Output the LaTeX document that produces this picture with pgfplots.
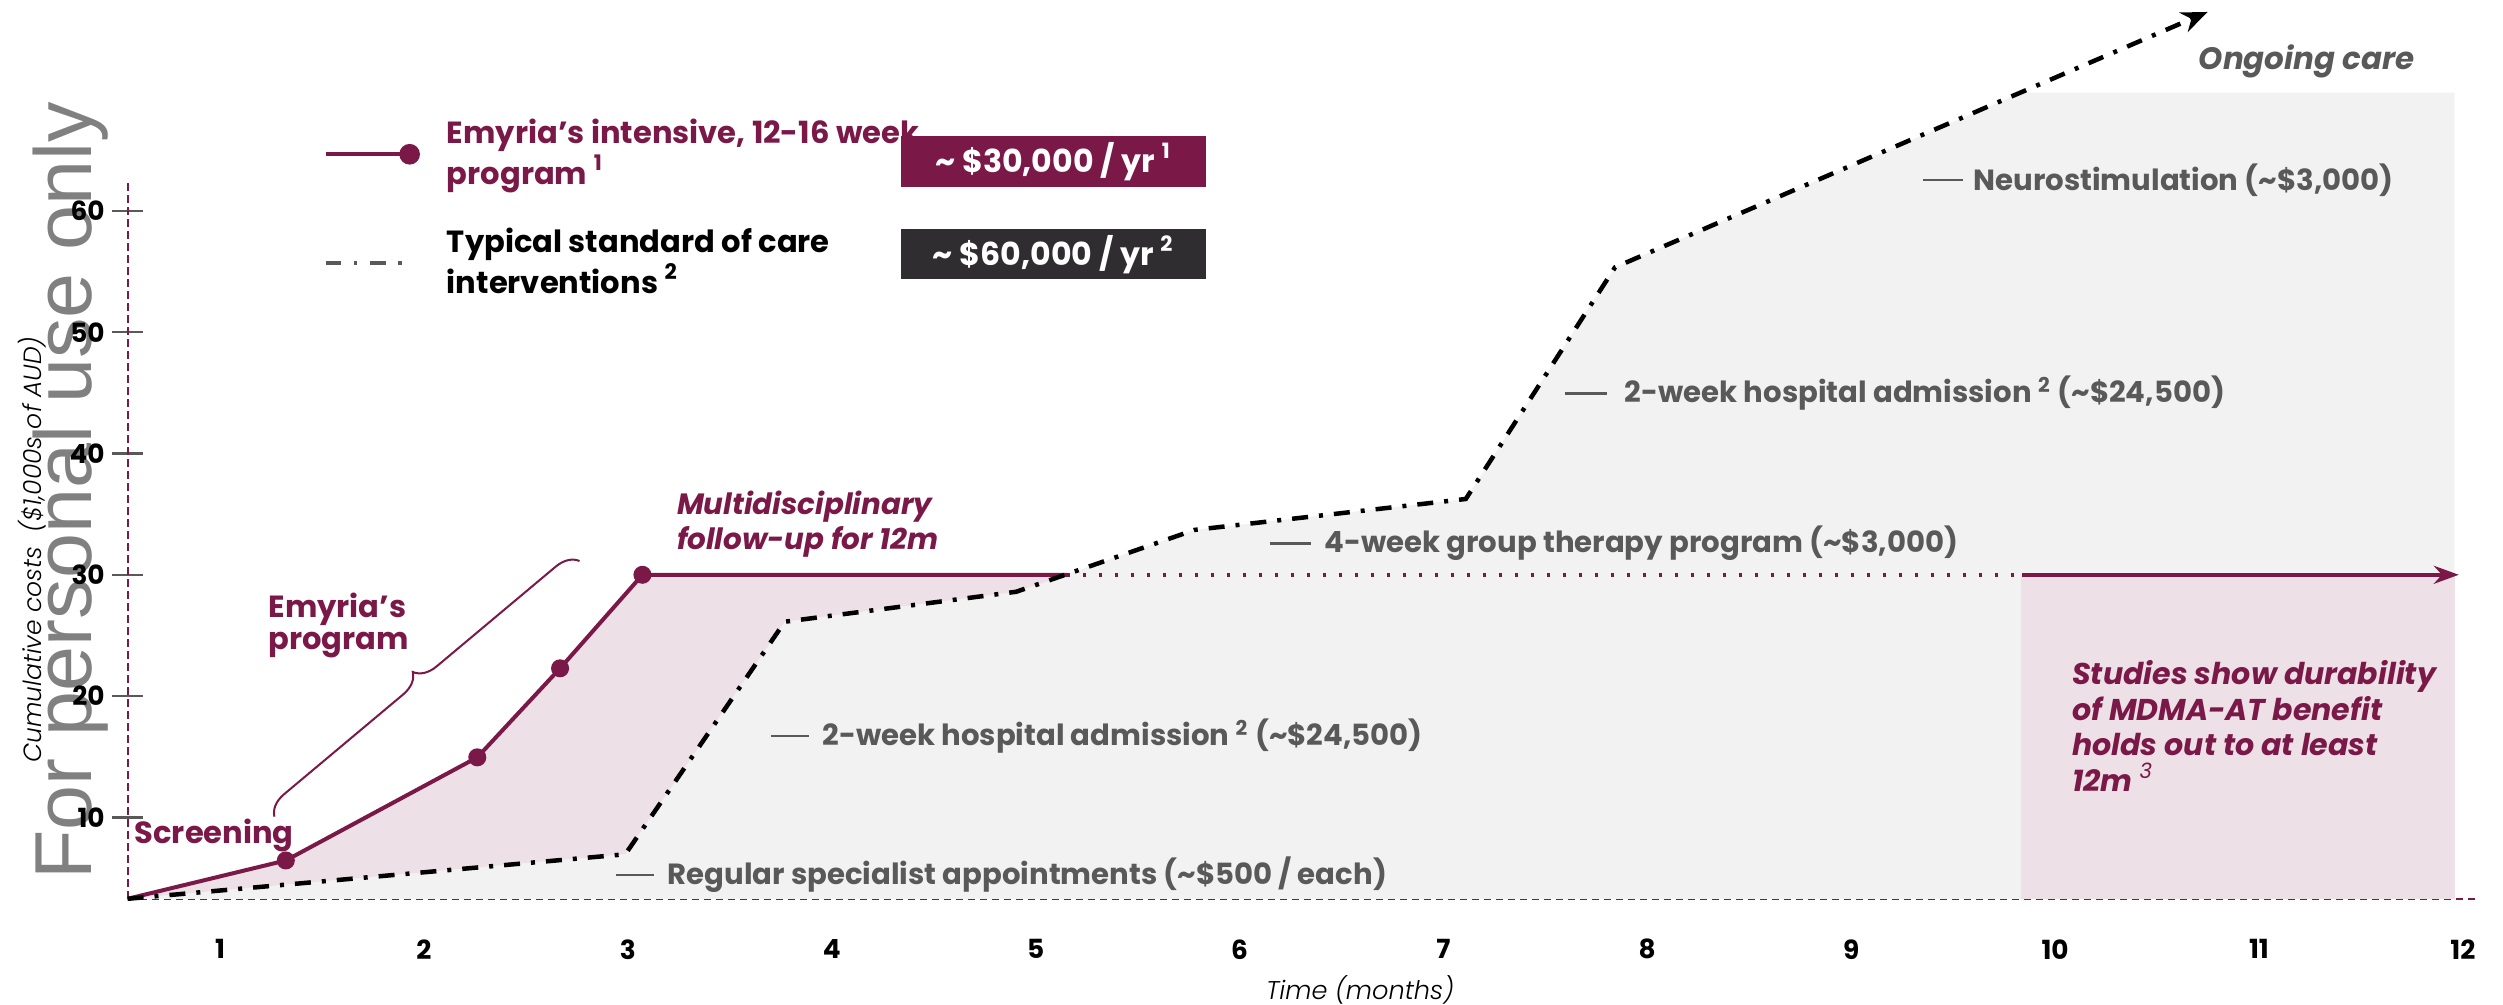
\documentclass[border=0pt]{standalone}
\usepackage{pgfplots}
\pgfplotsset{compat=1.18}
\usepackage{fontspec}
\setmainfont{Poppins}
\newfontfamily\wmfont{Liberation Sans}
\newfontfamily\poplight{Poppins Light}[ItalicFont={Poppins Light Italic}]
\usetikzlibrary{decorations.pathreplacing,arrows.meta}
\definecolor{emy}{HTML}{7A1848}
\definecolor{greytxt}{HTML}{595959}
\definecolor{bgrey}{HTML}{F2F2F2}
\definecolor{bpink}{HTML}{EDE0E6}
\definecolor{darkbox}{HTML}{2F2D30}
\begin{document}
\begin{tikzpicture}
\path[use as bounding box] (0,0) rectangle (25.03cm,10.05cm);
% watermark
\node[rotate=90, anchor=base, inner sep=0pt, text=gray, font=\wmfont\fontsize{23}{23}\selectfont] at (0.917cm,5.14cm) {For personal use only};
\begin{axis}[
  at={(1.276cm,1.062cm)}, anchor=south west,
  scale only axis, width=23.485cm, height=7.158cm,
  xmin=0.547, xmax=12.065, ymin=3.29, ymax=62.3,
  clip=false,
  axis x line*=bottom, axis y line*=left,
  axis line style={emy, line width=0.2mm, dash pattern=on 0.75mm off 0.45mm},
  xtick={1,...,12}, ytick={10,20,...,60},
  x tick style={draw=none},
  y tick style={draw=greytxt, line width=0.25mm},
  major tick length=3.1mm, tick align=center,
  /pgf/number format/assume math mode=true,
  ticklabel style={font=\bfseries\fontsize{7.5}{8}\selectfont, text=black},
  xticklabel style={anchor=center, yshift=-3.5mm},
  yticklabel style={anchor=east, xshift=0.5mm},
  xlabel={Time (months)},
  ylabel={Cumulative costs\ \ (\$1,000s of AUD)},
  xlabel style={at={(axis description cs:0.5248,0)}, anchor=center, yshift=-9.12mm, font=\poplight\itshape\fontsize{7.3}{8}\selectfont},
  ylabel style={at={(axis description cs:-0.0405,0.4878)}, anchor=center, rotate=0, font=\poplight\itshape\fontsize{7.1}{8}\selectfont},
  legend style={at={(axis cs:1.505,60.18)}, anchor=west, draw=none, fill=none, inner sep=0pt,
    row sep=2.4mm, font=\bfseries\fontsize{8.7}{9.5}\selectfont, cells={anchor=west, align=left},
    /tikz/every odd column/.append style={column sep=2mm}},
  legend cell align=left,
]
% grey area under standard of care
\addplot[fill=bgrey, draw=none, forget plot] coordinates {
  (0.547,3.29) (2.988,6.96) (3.770,26.13) (4.905,28.6) (5.78,33.7) (7.11,36.25)
  (7.842,55.35) (9.835,69.75) (11.96,69.75) (11.96,3.29)} -- cycle;
% pink area between the two curves
\addplot[fill=bpink, draw=none, forget plot] coordinates {
  (0.547,3.29) (1.323,6.45) (2.262,14.95) (2.668,22.29) (3.072,30) (5.153,30)
  (4.905,28.6) (3.770,26.13) (2.988,6.96)} -- cycle;
% pink durability box
\addplot[fill=bpink, draw=none, forget plot] coordinates {
  (9.835,3.29) (11.96,3.29) (11.96,30) (9.835,30)} -- cycle;
% Emyria line
\addplot[emy, line width=0.4mm,
  legend image code/.code={\draw[-, solid, emy, line width=0.4mm] (0mm,0mm) -- (8.4mm,0mm); \fill[emy] (8.4mm,0mm) circle (0.83mm);}]
  coordinates {(0.547,3.29) (1.323,6.45) (2.262,14.95) (2.668,22.29) (3.072,30) (5.153,30)};
\addlegendentry[text=emy]{Emyria's intensive, 12-16 week\\program \textsuperscript{1}}
% standard of care
\addplot[black, line width=0.45mm, dash pattern=on 1.6mm off 1.1mm on 0.4mm off 1.1mm,
  -{Stealth[length=2.6mm, width=2.1mm]},
  legend image code/.code={\draw[-, black!65, line width=0.33mm, dash pattern=on 1.57mm off 1.27mm on 0.33mm off 1.27mm] (0mm,0mm) -- (7.8mm,0mm);}]
  coordinates {(0.547,3.29) (2.988,6.96) (3.770,26.13) (4.905,28.6) (5.78,33.7) (7.11,36.25) (7.842,55.35) (10.748,76.4)};
\addlegendentry[text=black]{Typical standard of care\\interventions \textsuperscript{2}}
% follow-up dotted and arrow
\addplot[emy, line width=0.35mm, dash pattern=on 0.35mm off 1.25mm, forget plot]
  coordinates {(5.153,30) (9.84,30)};
\addplot[emy, line width=0.35mm, -{Stealth[length=2.5mm, width=1.8mm]}, forget plot]
  coordinates {(9.84,30) (11.98,30)};
\addplot[only marks, mark=*, mark size=0.83mm, color=emy, forget plot]
  coordinates {(1.323,6.45) (2.262,14.95) (2.668,22.29) (3.072,30)};
% annotation lines and labels
\draw[greytxt, line width=0.25mm] (axis cs:2.942,5.25) -- (axis cs:3.128,5.25);
\node[anchor=west, inner sep=0pt, text=greytxt, font=\bfseries\fontsize{8.3}{9.5}\selectfont] at (axis cs:3.192,5.25) {Regular specialist appointments (\textasciitilde\$500 / each)};
\draw[greytxt, line width=0.25mm] (axis cs:3.702,16.71) -- (axis cs:3.889,16.71);
\node[anchor=west, inner sep=0pt, text=greytxt, font=\bfseries\fontsize{8.3}{9.5}\selectfont] at (axis cs:3.952,16.71) {2-week hospital admission \textsuperscript{2} (\textasciitilde\$24,500)};
\draw[greytxt, line width=0.25mm] (axis cs:6.151,32.6) -- (axis cs:6.351,32.6);
\node[anchor=west, inner sep=0pt, text=greytxt, font=\bfseries\fontsize{8.3}{9.5}\selectfont] at (axis cs:6.414,32.6) {4-week group therapy program (\textasciitilde\$3,000)};
\draw[greytxt, line width=0.25mm] (axis cs:7.596,44.96) -- (axis cs:7.802,44.96);
\node[anchor=west, inner sep=0pt, text=greytxt, font=\bfseries\fontsize{8.3}{9.5}\selectfont] at (axis cs:7.887,44.96) {2-week hospital admission \textsuperscript{2} (\textasciitilde\$24,500)};
\draw[greytxt, line width=0.25mm] (axis cs:9.352,62.55) -- (axis cs:9.548,62.55);
\node[anchor=west, inner sep=0pt, text=greytxt, font=\bfseries\fontsize{8.3}{9.5}\selectfont] at (axis cs:9.597,62.55) {Neurostimulation (\textasciitilde\$3,000)};
\node[anchor=east, inner sep=0pt, text=greytxt, font=\bfseries\itshape\fontsize{8.8}{9.5}\selectfont] at (axis cs:11.767,72.3) {Ongoing care};
% purple labels
\node[anchor=west, inner sep=0pt, align=left, text=emy, font=\bfseries\itshape\fontsize{8.35}{10}\selectfont] at (axis cs:3.238,34.19) {Multidisciplinary\\follow-up for 12m};
\node[anchor=west, inner sep=0pt, align=left, text=emy, font=\bfseries\fontsize{8.7}{9}\selectfont] at (axis cs:1.235,25.8) {Emyria's\\program};
\node[anchor=west, inner sep=0pt, text=emy, font=\bfseries\fontsize{8.7}{9}\selectfont] at (axis cs:0.578,8.49) {Screening};
\node[anchor=north west, inner sep=0pt, align=left, text=emy, font=\bfseries\itshape\fontsize{8.55}{10.1}\selectfont] at (axis cs:10.081,22.96) {Studies show durability\\of MDMA-AT benefit\\holds out to at least\\12m \textsuperscript{\mdseries 3}};
\draw[emy, line width=0.2mm, decorate, decoration={brace, amplitude=2.2mm}] (axis cs:1.267,10.06) -- (axis cs:2.768,31.2);
% cost boxes
\node[fill=emy, text=white, minimum width=30.5mm, minimum height=5.07mm, inner sep=0pt, font=\bfseries\fontsize{9}{10}\selectfont] at (axis cs:5.088,64.09) {\textasciitilde\ \$30,000 / yr \textsuperscript{1}};
\node[fill=darkbox, text=white, minimum width=30.5mm, minimum height=5.0mm, inner sep=0pt, font=\bfseries\fontsize{9}{10}\selectfont] at (axis cs:5.088,56.42) {\textasciitilde\ \$60,000 / yr \textsuperscript{2}};
\end{axis}
\end{tikzpicture}
\end{document}
